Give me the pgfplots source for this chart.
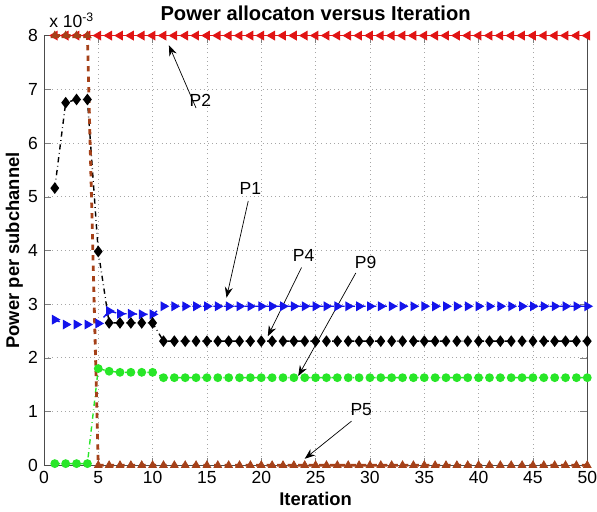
\documentclass[border=0pt]{standalone}
\usepackage{fontspec}
\setmainfont{Liberation Sans}
\usepackage{pgfplots}
\usepackage{pgfplotstable}
\pgfplotsset{compat=1.18}
\usetikzlibrary{arrows.meta}
\definecolor{pblue}{RGB}{20,20,235}
\definecolor{pred}{RGB}{225,20,20}
\definecolor{pgreen}{RGB}{40,230,40}
\definecolor{pbrown}{RGB}{165,65,25}

\pgfplotstableread{
x p1 p2 p4 p5 p9
1 2.71 8 5.16 8 0.03
2 2.62 8 6.75 8 0.03
3 2.62 8 6.81 8 0.03
4 2.62 8 6.81 8 0.03
5 2.64 8 3.98 0 1.80
6 2.87 8 2.65 0 1.75
7 2.82 8 2.65 0 1.73
8 2.82 8 2.65 0 1.73
9 2.81 8 2.65 0 1.73
10 2.81 8 2.65 0 1.73
11 2.96 8 2.31 0 1.63
12 2.96 8 2.31 0 1.63
13 2.96 8 2.31 0 1.63
14 2.96 8 2.31 0 1.63
15 2.96 8 2.31 0 1.63
16 2.96 8 2.31 0 1.63
17 2.96 8 2.31 0 1.63
18 2.96 8 2.31 0 1.63
19 2.96 8 2.31 0 1.63
20 2.96 8 2.31 0 1.63
21 2.96 8 2.31 0 1.63
22 2.96 8 2.31 0 1.63
23 2.96 8 2.31 0 1.63
24 2.96 8 2.31 0 1.63
25 2.96 8 2.31 0 1.63
26 2.96 8 2.31 0 1.63
27 2.96 8 2.31 0 1.63
28 2.96 8 2.31 0 1.63
29 2.96 8 2.31 0 1.63
30 2.96 8 2.31 0 1.63
31 2.96 8 2.31 0 1.63
32 2.96 8 2.31 0 1.63
33 2.96 8 2.31 0 1.63
34 2.96 8 2.31 0 1.63
35 2.96 8 2.31 0 1.63
36 2.96 8 2.31 0 1.63
37 2.96 8 2.31 0 1.63
38 2.96 8 2.31 0 1.63
39 2.96 8 2.31 0 1.63
40 2.96 8 2.31 0 1.63
41 2.96 8 2.31 0 1.63
42 2.96 8 2.31 0 1.63
43 2.96 8 2.31 0 1.63
44 2.96 8 2.31 0 1.63
45 2.96 8 2.31 0 1.63
46 2.96 8 2.31 0 1.63
47 2.96 8 2.31 0 1.63
48 2.96 8 2.31 0 1.63
49 2.96 8 2.31 0 1.63
50 2.96 8 2.31 0 1.63
}\power

\begin{document}
\begin{tikzpicture}
\begin{axis}[
  scale only axis,
  width=10.9cm, height=8.62cm,
  xmin=0, xmax=50, ymin=0, ymax=8,
  xtick={0,5,...,50}, ytick={0,1,...,8},
  grid=major,
  grid style={dotted, gray!70},
  tick align=inside,
  axis line style={gray!60!black},
  clip=false,
  /pgf/number format/assume math mode=true,
  tick label style={font=\normalsize},
  xticklabel style={inner xsep=0pt},
  title={Power allocaton versus Iteration},
  title style={font=\fontsize{11.5}{13}\selectfont\bfseries, yshift=-1pt},
  xlabel={\textbf{Iteration}},
  ylabel={\textbf{Power per subchannel}},
  label style={font=\fontsize{10.5}{12}\selectfont},
  xlabel style={yshift=2pt},
  ylabel style={yshift=-4pt},
  mark size=2.5pt,
]
\addplot[pblue, dashed, thick, mark=triangle*, mark options={solid, rotate=-90}] table[x=x, y=p1] {\power};
\addplot[pred, thick, mark=triangle*, mark options={solid, rotate=90}] table[x=x, y=p2] {\power};
\addplot[black, dash dot, thick, mark=diamond*, mark size=2.7pt, mark options={solid}] table[x=x, y=p4] {\power};
\addplot[pgreen, dash dot, thick, mark=*, mark size=2.1pt, mark options={solid}] table[x=x, y=p9] {\power};
\addplot[pbrown, dashed, line width=1.6pt, mark=triangle*, mark options={solid, line width=0.4pt}] table[x=x, y=p5] {\power};

\node[anchor=south west, font=\normalsize, inner sep=1pt] at (axis cs:0.3,8.1) {x 10\textsuperscript{-3}};

\draw[-{Stealth[length=6pt]}, thin] (axis cs:14.0,6.65) -- (axis cs:11.5,7.82);
\node at (axis cs:14.4,6.8) {P2};
\draw[-{Stealth[length=6pt]}, thin] (axis cs:18.8,4.92) -- (axis cs:16.8,3.12);
\node at (axis cs:19.0,5.15) {P1};
\draw[-{Stealth[length=6pt]}, thin] (axis cs:23.7,3.68) -- (axis cs:20.6,2.40);
\node at (axis cs:23.9,3.9) {P4};
\draw[-{Stealth[length=6pt]}, thin] (axis cs:28.7,3.58) -- (axis cs:23.4,1.66);
\node at (axis cs:29.6,3.78) {P9};
\draw[-{Stealth[length=6pt]}, thin] (axis cs:28.3,0.82) -- (axis cs:24.0,0.12);
\node at (axis cs:29.2,1.04) {P5};
\end{axis}
\end{tikzpicture}
\end{document}
